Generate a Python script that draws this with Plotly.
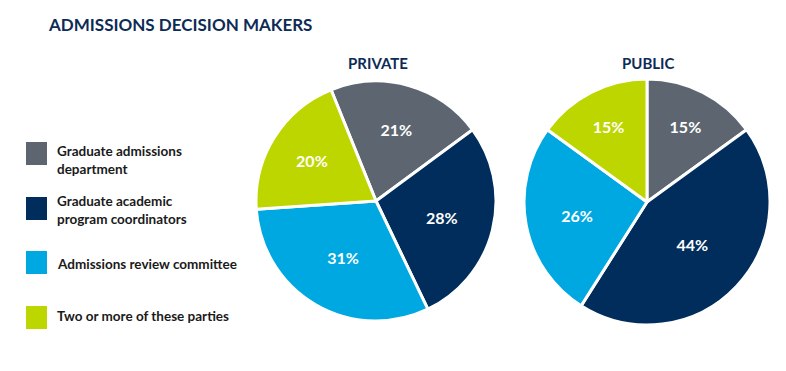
import plotly.graph_objects as go

categories = ["Graduate admissions department", "Graduate academic program coordinators",
              "Admissions review committee", "Two or more of these parties"]
legend_labels = ["Graduate admissions<br>department", "Graduate academic<br>program coordinators",
                 "Admissions review committee", "Two or more of these parties"]
private_values = [21, 28, 31, 20]
public_values = [15, 44, 26, 15]
colors = ["#5D6670", "#002D5B", "#00A8E1", "#BED600"]

W, H = 786, 371
fig = go.Figure()

def px_dom(x0, x1, y0, y1):
    return dict(x=[x0 / W, x1 / W], y=[1 - y1 / H, 1 - y0 / H])

fig.add_trace(go.Pie(
    labels=categories, values=private_values, sort=False, direction="clockwise",
    rotation=-22, marker=dict(colors=colors, line=dict(color="white", width=3)),
    texttemplate="%{value}%", textposition="inside", insidetextorientation="horizontal",
    textfont=dict(family="Lato", size=16, color="white", weight="bold"),
    domain=px_dom(256, 496, 81, 321), showlegend=False, hoverinfo="label+value"))

fig.add_trace(go.Pie(
    labels=categories, values=public_values, sort=False, direction="clockwise",
    rotation=0, marker=dict(colors=colors, line=dict(color="white", width=3)),
    texttemplate="%{value}%", textposition="inside", insidetextorientation="horizontal",
    textfont=dict(family="Lato", size=16, color="white", weight="bold"),
    domain=px_dom(524, 770, 79, 325), showlegend=False, hoverinfo="label+value"))

annotations = [
    dict(text="<b>ADMISSIONS DECISION MAKERS</b>", x=46 / W, y=1 - 25 / H, xref="paper", yref="paper",
         xanchor="left", yanchor="middle", showarrow=False,
         font=dict(family="Lato", size=17, color="#0D2B55")),
    dict(text="<b>PRIVATE</b>", x=378 / W, y=1 - 63 / H, xref="paper", yref="paper",
         xanchor="center", yanchor="middle", showarrow=False,
         font=dict(family="Lato", size=15, color="#0D2B55")),
    dict(text="<b>PUBLIC</b>", x=648 / W, y=1 - 63 / H, xref="paper", yref="paper",
         xanchor="center", yanchor="middle", showarrow=False,
         font=dict(family="Lato", size=15, color="#0D2B55")),
]
shapes = []
square_tops = [142, 197, 251, 306]
text_centers = [160, 210, 264, 316]
for i, lab in enumerate(legend_labels):
    shapes.append(dict(type="rect", xref="paper", yref="paper",
                       x0=26 / W, x1=47 / W, y0=1 - (square_tops[i] + 23) / H, y1=1 - square_tops[i] / H,
                       fillcolor=colors[i], line=dict(width=0)))
    annotations.append(dict(text="<b>" + lab + "</b>", x=55 / W, y=1 - text_centers[i] / H,
                            xref="paper", yref="paper", xanchor="left", yanchor="middle",
                            align="left", showarrow=False,
                            font=dict(family="Lato", size=13.5, color="#1a1a1a")))

fig.update_layout(width=W, height=H, margin=dict(l=0, r=0, t=0, b=0),
                  paper_bgcolor="white", plot_bgcolor="white",
                  annotations=annotations, shapes=shapes)
fig.write_html("out.html", config={"displayModeBar": False},
               post_script="document.body.style.margin='0px';document.body.style.overflow='hidden';")
